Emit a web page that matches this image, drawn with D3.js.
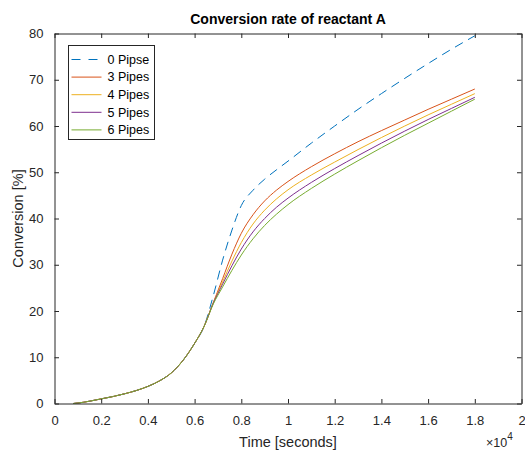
<!DOCTYPE html>
<html>
<head>
<meta charset="utf-8">
<script src="https://cdn.jsdelivr.net/npm/d3@7"></script>
<style>
  body { margin: 0; background: #fff; }
  text { font-family: "Liberation Sans", Arial, sans-serif; }
</style>
</head>
<body>
<div id="chart"></div>
<script>
// time points (seconds) shared by every series
const time = [800, 1000, 1500, 2000, 2500, 3000, 3500, 4000, 4500, 5000, 5500, 6000, 6400,
              6800, 7200, 7600, 8000, 8500, 9000, 9500, 10000, 11000, 12000, 13000, 14000,
              15000, 16000, 17000, 18000];

// conversion [%]
const pipes0 = [0, 0.1, 0.5, 1.0, 1.5, 2.1, 2.8, 3.7, 4.9, 6.6, 9.3, 13.0, 16.6,
                23.3, 31.0, 37.5, 42.8, 46.1, 48.5, 50.5, 52.4, 56.3, 60.0, 63.6, 67.0,
                70.3, 73.5, 76.6, 79.5];
const pipes3 = [0, 0.1, 0.5, 1.0, 1.5, 2.1, 2.8, 3.7, 4.9, 6.6, 9.3, 13.0, 16.6,
                21.8, 27.0, 32.3, 36.8, 40.8, 43.8, 46.1, 48.0, 51.2, 54.0, 56.6, 59.0,
                61.3, 63.6, 65.8, 68.0];
const pipes4 = [0, 0.1, 0.5, 1.0, 1.5, 2.1, 2.8, 3.7, 4.9, 6.6, 9.3, 13.0, 16.6,
                21.8, 26.3, 30.8, 34.8, 38.8, 41.8, 44.2, 46.2, 49.4, 52.2, 54.9, 57.5,
                60.0, 62.4, 64.7, 67.0];
const pipes5 = [0, 0.1, 0.5, 1.0, 1.5, 2.1, 2.8, 3.7, 4.9, 6.6, 9.3, 13.0, 16.6,
                21.7, 25.8, 29.8, 33.4, 37.1, 40.0, 42.4, 44.4, 47.8, 50.8, 53.6, 56.3,
                58.9, 61.4, 63.8, 66.2];
const pipes6 = [0, 0.1, 0.5, 1.0, 1.5, 2.1, 2.8, 3.7, 4.9, 6.6, 9.3, 13.0, 16.6,
                21.5, 25.2, 28.8, 32.1, 35.6, 38.5, 40.9, 43.0, 46.5, 49.6, 52.5, 55.3,
                58.0, 60.6, 63.2, 65.8];

const seriesNames = ["0 Pipse", "3 Pipes", "4 Pipes", "5 Pipes", "6 Pipes"];
const seriesValues = [pipes0, pipes3, pipes4, pipes5, pipes6];
const seriesColors = ["#0072BD", "#D95319", "#EDB120", "#7E2F8E", "#77AC30"];

const xTicks = [0, 2000, 4000, 6000, 8000, 10000, 12000, 14000, 16000, 18000, 20000];
const yTicks = [0, 10, 20, 30, 40, 50, 60, 70, 80];

const width = 525, height = 450;
const plotL = 54.5, plotR = 521.5, plotT = 33.5, plotB = 403.5;
const axisColor = "#262626";

let svg = d3.select("#chart").append("svg")
            .attr("width", width)
            .attr("height", height);

let x = d3.scaleLinear().domain([0, 20000]).range([plotL, plotR]);
let y = d3.scaleLinear().domain([0, 80]).range([plotB, plotT]);

// lines
let line = d3.line()
             .x(function(d) { return x(d[0]) })
             .y(function(d) { return y(d[1]) })
             .curve(d3.curveMonotoneX);

seriesValues.forEach(function(vals, i) {
  svg.append("path")
     .datum(time.map(function(t, j) { return [t, vals[j]] }))
     .attr("fill", "none")
     .attr("stroke", seriesColors[i])
     .attr("stroke-width", 1)
     .attr("stroke-dasharray", i == 0 ? "9,6" : null)
     .attr("d", line);
});

// axes: ticks inside, on all four sides
const tickLen = 4.5;
function styleAxis(g) {
  g.selectAll("path").attr("stroke", axisColor);
  g.selectAll("line").attr("stroke", axisColor);
  g.selectAll("text").attr("fill", axisColor)
   .style("font-family", "'Liberation Sans', Arial, sans-serif")
   .style("font-size", "13px");
}
const xFmt = function(d) { return d3.format("~g")(d / 10000) };

svg.append("g").attr("transform", `translate(0,${plotB})`)
   .call(d3.axisBottom(x).tickValues(xTicks).tickFormat(xFmt)
           .tickSizeInner(-tickLen).tickSizeOuter(0).tickPadding(12))
   .call(styleAxis);
svg.append("g").attr("transform", `translate(0,${plotT})`)
   .call(d3.axisTop(x).tickValues(xTicks).tickFormat("")
           .tickSizeInner(-tickLen).tickSizeOuter(0))
   .call(styleAxis);
svg.append("g").attr("transform", `translate(${plotL},0)`)
   .call(d3.axisLeft(y).tickValues(yTicks)
           .tickSizeInner(-tickLen).tickSizeOuter(0).tickPadding(11))
   .call(styleAxis);
svg.append("g").attr("transform", `translate(${plotR},0)`)
   .call(d3.axisRight(y).tickValues(yTicks).tickFormat("")
           .tickSizeInner(-tickLen).tickSizeOuter(0))
   .call(styleAxis);

// title
svg.append("text")
   .attr("x", (plotL + plotR) / 2).attr("y", 24)
   .style("text-anchor", "middle")
   .style("font-size", "14px")
   .style("font-weight", "bold")
   .attr("fill", "#000")
   .text("Conversion rate of reactant A");

// axis labels
svg.append("text")
   .attr("x", (plotL + plotR) / 2).attr("y", 447)
   .style("text-anchor", "middle")
   .style("font-size", "14.5px")
   .attr("fill", axisColor)
   .text("Time [seconds]");
svg.append("text")
   .attr("transform", `translate(23,${(plotT + plotB) / 2}) rotate(-90)`)
   .style("text-anchor", "middle")
   .style("font-size", "14.5px")
   .attr("fill", axisColor)
   .text("Conversion [%]");

// x10^4 exponent
let expo = svg.append("text")
              .attr("x", 486).attr("y", 447)
              .style("font-size", "12.5px")
              .attr("fill", axisColor);
expo.append("tspan").text("\u00d710");
expo.append("tspan").attr("dy", -7).style("font-size", "10px").text("4");

// legend
const legX = 68.5, legY = 45.5, rowH = 17.6;
svg.append("rect")
   .attr("x", legX).attr("y", legY)
   .attr("width", 86).attr("height", 94)
   .attr("fill", "#fff")
   .attr("stroke", axisColor)
   .attr("stroke-width", 1);

seriesNames.forEach(function(name, i) {
  let cy = legY + 14 + i * rowH;
  svg.append("line")
     .attr("x1", legX + 3).attr("x2", legX + 33)
     .attr("y1", cy).attr("y2", cy)
     .attr("stroke", seriesColors[i])
     .attr("stroke-width", 1)
     .attr("stroke-dasharray", i == 0 ? "9,8" : null);
  svg.append("text")
     .attr("x", legX + 39).attr("y", cy)
     .attr("dy", "0.35em")
     .style("font-size", "12.5px")
     .attr("fill", "#000")
     .text(name);
});
</script>
</body>
</html>
